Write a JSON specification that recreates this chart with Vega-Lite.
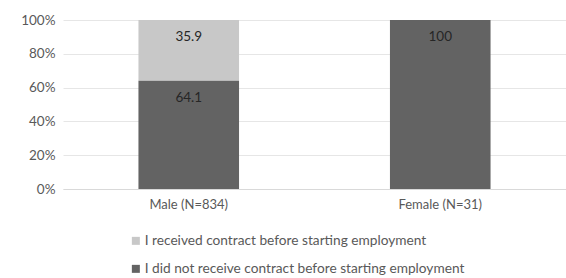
{
  "$schema": "https://vega.github.io/schema/vega-lite/v6.json",
  "width": 503,
  "height": 169,
  "autosize": {"type": "none"},
  "padding": {"left": 63, "top": 20, "right": 0, "bottom": 89},
  "background": "white",
  "config": {
    "view": {"stroke": null},
    "font": "Lato"
  },
  "data": {
    "values": [
      {"gender": "Male (N=834)", "answer": "I received contract before starting employment", "value": 35.9, "ord": 2},
      {"gender": "Male (N=834)", "answer": "I did not receive contract before starting employment", "value": 64.1, "ord": 1},
      {"gender": "Female (N=31)", "answer": "I did not receive contract before starting employment", "value": 100, "ord": 1}
    ]
  },
  "transform": [
    {"stack": "value", "groupby": ["gender"], "sort": [{"field": "ord", "order": "ascending"}], "as": ["v0", "v1"], "offset": "normalize"}
  ],
  "encoding": {
    "x": {
      "field": "gender", "type": "nominal", "sort": ["Male (N=834)", "Female (N=31)"],
      "scale": {"paddingInner": 0.6, "paddingOuter": 0.3},
      "axis": {"title": null, "labelAngle": 0, "ticks": false, "domainColor": "#d9d9d9", "labelColor": "#595959", "labelFontSize": 13, "labelPadding": 9}
    }
  },
  "layer": [
    {
      "mark": {"type": "bar"},
      "encoding": {
        "y": {
          "field": "v0", "type": "quantitative", "scale": {"domain": [0, 1]},
          "axis": {"title": null, "format": "%", "values": [0, 0.2, 0.4, 0.6, 0.8, 1], "labelOverlap": false, "labelFlush": false, "domain": false, "ticks": false, "gridColor": "#e6e6e6", "labelColor": "#595959", "labelFontSize": 13.5, "labelPadding": 8}
        },
        "y2": {"field": "v1"},
        "color": {
          "field": "answer", "type": "nominal",
          "scale": {"domain": ["I received contract before starting employment", "I did not receive contract before starting employment"], "range": ["#c8c8c8", "#636363"]},
          "legend": {
            "title": null, "orient": "none", "legendX": 66, "legendY": 214,
            "symbolType": "square", "symbolSize": 64, "symbolStrokeWidth": 0,
            "labelFontSize": 13.7, "labelColor": "#595959", "rowPadding": 13, "labelOffset": 2, "labelLimit": 500
          }
        }
      }
    },
    {
      "mark": {"type": "text", "baseline": "middle", "dy": 17, "fontSize": 13.5, "color": "#262626"},
      "encoding": {
        "y": {
          "field": "v1", "type": "quantitative", "scale": {"domain": [0, 1]},
          "axis": {"title": null, "format": "%", "values": [0, 0.2, 0.4, 0.6, 0.8, 1], "labelOverlap": false, "labelFlush": false, "domain": false, "ticks": false, "gridColor": "#e6e6e6", "labelColor": "#595959", "labelFontSize": 13.5, "labelPadding": 8}
        },
        "text": {"field": "value", "type": "quantitative"}
      }
    }
  ]
}
